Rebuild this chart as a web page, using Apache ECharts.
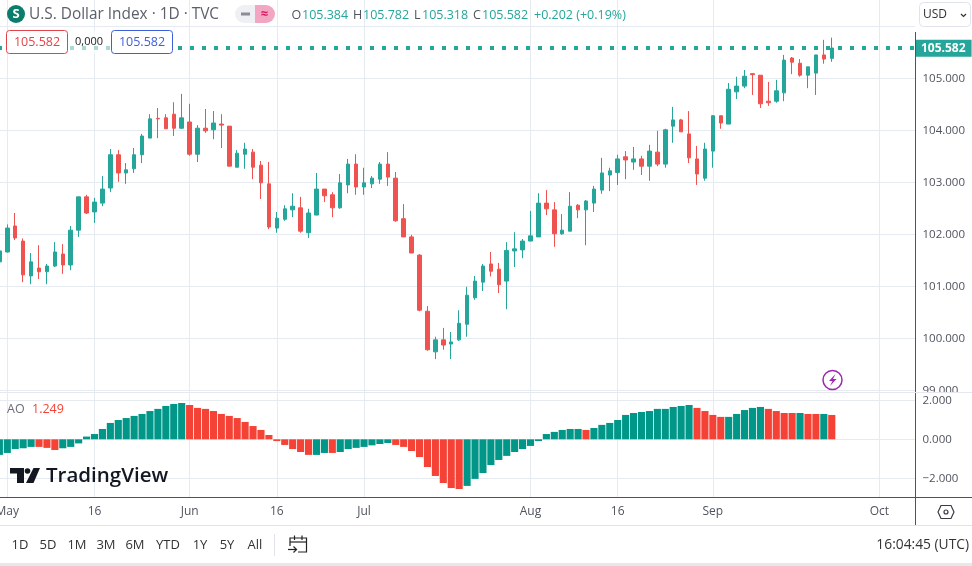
<!DOCTYPE html>
<html>
<head>
<meta charset="utf-8">
<style>
  html, body { margin: 0; padding: 0; background: #fff; }
  #main { width: 972px; height: 566px; }
</style>
</head>
<body>
<div id="main"></div>
<script src="https://cdn.jsdelivr.net/npm/echarts@6/dist/echarts.min.js"></script>
<script>
// trading days, first one is 28 Apr (only half visible at the left edge)
var categories = [
  "2023-04-28",
  "2023-05-01","2023-05-02","2023-05-03","2023-05-04","2023-05-05","2023-05-08","2023-05-09","2023-05-10","2023-05-11","2023-05-12",
  "2023-05-15","2023-05-16","2023-05-17","2023-05-18","2023-05-19","2023-05-22","2023-05-23","2023-05-24","2023-05-25","2023-05-26",
  "2023-05-29","2023-05-30","2023-05-31",
  "2023-06-01","2023-06-02","2023-06-05","2023-06-06","2023-06-07","2023-06-08","2023-06-09","2023-06-12","2023-06-13","2023-06-14",
  "2023-06-15","2023-06-16","2023-06-19","2023-06-20","2023-06-21","2023-06-22","2023-06-23","2023-06-26","2023-06-27","2023-06-28",
  "2023-06-29","2023-06-30",
  "2023-07-03","2023-07-04","2023-07-05","2023-07-06","2023-07-07","2023-07-10","2023-07-11","2023-07-12","2023-07-13","2023-07-14",
  "2023-07-17","2023-07-18","2023-07-19","2023-07-20","2023-07-21","2023-07-24","2023-07-25","2023-07-26","2023-07-27","2023-07-28",
  "2023-07-31",
  "2023-08-01","2023-08-02","2023-08-03","2023-08-04","2023-08-07","2023-08-08","2023-08-09","2023-08-10","2023-08-11","2023-08-14",
  "2023-08-15","2023-08-16","2023-08-17","2023-08-18","2023-08-21","2023-08-22","2023-08-23","2023-08-24","2023-08-25","2023-08-28",
  "2023-08-29","2023-08-30","2023-08-31",
  "2023-09-01","2023-09-04","2023-09-05","2023-09-06","2023-09-07","2023-09-08","2023-09-11","2023-09-12","2023-09-13","2023-09-14",
  "2023-09-15","2023-09-18","2023-09-19","2023-09-20","2023-09-21","2023-09-22","2023-09-25","2023-09-26","2023-09-27","2023-09-28",
  "2023-09-29",
  "2023-10-02","2023-10-03","2023-10-04","2023-10-05","2023-10-06"
];

var opens = [
  101.47,101.66,102.16,101.87,101.20,101.35,101.28,101.39,101.62,101.41,
  102.08,102.72,102.43,102.60,102.89,103.53,103.18,103.26,103.53,103.85,
  104.23,104.24,104.31,104.04,104.16,103.54,104.04,104.01,104.12,104.08,
  103.29,103.54,103.58,103.33,102.97,102.12,102.29,102.47,102.51,102.03,
  102.37,102.87,102.76,102.51,102.95,103.35,102.91,102.97,103.06,103.35,
  103.08,102.30,101.95,101.60,100.52,99.74,99.97,99.89,99.97,100.27,
  100.78,101.08,101.43,101.33,101.10,101.68,101.70,101.87,101.95,102.60,
  102.47,102.01,102.06,102.56,102.47,102.60,102.85,103.14,103.19,103.49,
  103.39,103.45,103.31,103.58,103.35,104.08,104.20,103.93,103.45,103.08,
  103.60,104.28,104.12,104.74,104.85,105.09,105.06,104.56,104.56,104.72,
  105.39,105.29,105.06,105.10,105.45,105.384
];
var closes = [
  101.68,102.12,101.93,101.22,101.47,101.28,101.39,101.66,101.41,102.08,
  102.72,102.41,102.62,102.87,103.53,103.18,103.24,103.53,103.89,104.22,
  104.22,104.03,104.04,104.24,103.54,104.04,103.99,104.14,104.10,103.31,
  103.56,103.64,103.29,102.99,102.14,102.31,102.49,102.54,102.06,102.41,
  102.87,102.74,102.51,102.99,103.35,102.91,102.99,103.08,103.35,103.10,
  102.26,101.95,101.64,100.54,99.78,99.97,99.87,99.93,100.29,100.83,
  101.10,101.39,101.29,101.03,101.69,101.72,101.87,101.97,102.60,102.49,
  102.01,102.08,102.54,102.47,102.64,102.87,103.18,103.22,103.45,103.43,
  103.45,103.31,103.60,103.35,104.01,104.20,103.97,103.47,103.16,103.64,
  104.28,104.14,104.79,104.85,105.04,105.07,104.51,104.53,104.76,105.35,
  105.31,105.06,105.22,105.45,105.37,105.582
];
var highs = [
  101.76,102.19,102.41,101.92,101.64,101.79,101.43,101.85,101.81,102.16,
  102.72,102.76,102.70,103.12,103.64,103.62,103.37,103.66,103.93,104.31,
  104.43,104.31,104.54,104.70,104.51,104.10,104.41,104.37,104.31,104.08,
  103.62,103.76,103.64,103.41,103.39,102.43,102.56,102.79,102.72,102.49,
  103.18,102.87,102.81,103.16,103.45,103.54,103.28,103.12,103.39,103.58,
  103.20,102.58,101.99,101.62,100.62,100.03,100.20,100.12,100.54,100.99,
  101.20,101.43,101.66,101.45,101.85,102.04,101.91,102.45,102.79,102.85,
  102.62,102.39,102.81,102.58,102.66,102.93,103.47,103.28,103.53,103.60,
  103.68,103.51,103.72,103.99,104.03,104.45,104.22,104.37,103.70,103.76,
  104.29,104.28,104.91,105.03,105.16,105.10,105.06,104.93,104.97,105.45,
  105.41,105.37,105.22,105.45,105.74,105.782
];
var lows = [
  101.38,101.65,101.89,101.08,101.04,101.14,101.04,101.37,101.24,101.31,
  101.95,102.39,102.22,102.54,102.81,103.01,102.97,103.18,103.37,103.85,
  103.85,104.03,103.89,104.03,103.51,103.39,103.95,103.83,103.66,103.31,
  103.29,103.26,103.06,102.68,102.10,102.03,102.26,102.33,102.03,101.93,
  102.37,102.62,102.33,102.49,102.79,102.76,102.76,102.89,102.97,102.93,
  102.24,101.95,101.64,100.52,99.76,99.60,99.78,99.60,99.95,100.03,
  100.74,100.91,101.19,100.87,100.56,101.37,101.54,101.87,101.95,102.37,
  101.76,101.99,102.06,102.31,101.79,102.43,102.78,102.83,102.95,103.06,
  103.24,103.14,103.03,103.31,103.28,103.76,103.97,103.37,102.95,103.03,
  103.28,104.03,104.12,104.60,104.81,104.68,104.43,104.47,104.53,104.56,
  105.08,105.03,104.81,104.68,105.28,105.318
];

// Awesome Oscillator pane
var aoValues = [
  -0.80,-0.70,-0.50,-0.46,-0.39,-0.39,-0.44,-0.55,-0.46,-0.39,
  -0.21,0.14,0.27,0.53,0.84,0.99,1.09,1.20,1.30,1.45,
  1.56,1.71,1.81,1.86,1.76,1.61,1.56,1.45,1.30,1.20,
  1.09,0.89,0.68,0.48,0.22,-0.09,-0.29,-0.50,-0.65,-0.80,
  -0.80,-0.70,-0.70,-0.65,-0.50,-0.44,-0.39,-0.31,-0.24,-0.19,
  -0.29,-0.39,-0.60,-0.91,-1.42,-1.88,-2.24,-2.50,-2.55,-2.39,
  -2.03,-1.73,-1.32,-1.06,-0.85,-0.65,-0.50,-0.34,-0.09,0.27,
  0.38,0.48,0.53,0.53,0.48,0.58,0.74,0.84,0.99,1.25,
  1.35,1.40,1.45,1.56,1.56,1.66,1.71,1.76,1.61,1.45,
  1.25,1.15,1.15,1.30,1.50,1.61,1.66,1.56,1.45,1.35,
  1.35,1.35,1.30,1.30,1.30,1.249
];
// 1 = teal bar, 0 = red bar
var aoRising = [
  1,1,1,1,1,0,0,0,1,1,
  1,1,1,1,1,1,1,1,1,1,
  1,1,1,1,0,0,0,0,0,0,
  0,0,0,0,0,0,0,0,0,0,
  1,1,0,1,1,1,1,1,1,1,
  0,0,0,0,0,0,0,0,0,1,
  1,1,1,1,1,1,1,1,1,1,
  1,1,1,1,0,1,1,1,1,1,
  1,1,1,1,1,1,1,1,0,0,
  0,0,1,1,1,1,1,0,0,0,
  0,1,0,0,1,0
];

var tickDates = ["2023-05-01","2023-05-16","2023-06-01","2023-06-16","2023-07-03","2023-08-01","2023-08-16","2023-09-01","2023-10-02"];
var tickTexts = ["May","16","Jun","16","Jul","Aug","16","Sep","Oct"];
var aoTicks = [-2, 0, 2];

var lastPrice = closes[closes.length - 1];
var UP = "#26a69a", DOWN = "#ef5350";
var GRID_LINE = "#e6ebf1", AXIS_TEXT = "#50535e";
var FONT = "'Open Sans', sans-serif";

var candleData = opens.map(function (o, i) {
  return [o, closes[i], lows[i], highs[i]];
});
var aoData = aoValues.map(function (v, i) {
  return { value: v, itemStyle: { color: aoRising[i] ? "#009688" : "#f44336" } };
});

function isTick(index) {
  return tickDates.indexOf(categories[index]) >= 0;
}

// small helper for all the toolbar/header text
function label(x, y, text, color, size, extra) {
  return {
    type: "text",
    z: 30,
    style: Object.assign({
      x: x, y: y, text: text, fill: color, fontSize: size || 12,
      fontFamily: FONT, textVerticalAlign: "middle", textAlign: "left"
    }, extra || {})
  };
}
function box(x, y, w, h, fill, stroke, r) {
  return {
    type: "rect",
    z: 25,
    shape: { x: x, y: y, width: w, height: h, r: r || 0 },
    style: { fill: fill, stroke: stroke || null, lineWidth: 1 }
  };
}
function line(x1, y1, x2, y2, color, w) {
  return {
    type: "line",
    z: 26,
    shape: { x1: x1, y1: y1, x2: x2, y2: y2 },
    style: { stroke: color, lineWidth: w || 1 }
  };
}

var chrome = [
  // axis frame
  line(915.5, 32, 915.5, 525, "#50535e"),
  line(0, 497.5, 972, 497.5, "#50535e"),
  line(0, 525.5, 972, 525.5, "#e0e3eb", 1),
  box(0, 563, 972, 3, "#e6e8ec"),
  box(916, 392.5, 56, 2, "#fff"),
  line(0, 392.5, 972, 392.5, "#e6e8ee"),

  // header
  { type: "circle", z: 30, shape: { cx: 16, cy: 14, r: 9 }, style: { fill: "#0b7d6c" } },
  label(16, 14.5, "S", "#fff", 13, { fontWeight: "bold", textAlign: "center" }),
  label(29, 14.5, "U.S. Dollar Index · 1D · TVC", "#5d606b", 15.4),
  box(235, 5, 20, 18, "#eff0f3", null, [9, 0, 0, 9]),
  box(255, 5, 20, 18, "#f3a6c2", null, [0, 9, 9, 0]),
  line(241, 14, 250, 14, "#8a8d96", 3),
  label(264.5, 14, "≈", "#d81b60", 13, { textAlign: "center", fontWeight: "bold" }),
  label(291.5, 15, "O", AXIS_TEXT, 12.5),
  label(302, 15, "105.384", UP, 12.5),
  label(353, 15, "H", AXIS_TEXT, 12.5),
  label(363, 15, "105.782", UP, 12.5),
  label(414, 15, "L", AXIS_TEXT, 12.5),
  label(422, 15, "105.318", UP, 12.5),
  label(473, 15, "C", AXIS_TEXT, 12.5),
  label(482, 15, "105.582", UP, 12.5),
  label(534, 15, "+0.202 (+0.19%)", UP, 12.5),
  box(919.5, 2.5, 51, 24, "#fff", "#e0e3eb", 4),
  label(923, 15, "USD", "#333", 12),
  { type: "polyline", z: 30, shape: { points: [[961, 14], [963.5, 16.5], [966, 14]] }, style: { stroke: "#333", fill: null, lineWidth: 1.2 } },

  // buy / sell boxes on the price pane
  box(68, 30, 43, 23, "rgba(255,255,255,0.6)"),
  box(6.5, 30.5, 61, 23, "#fff", "#e0434b", 3),
  label(37, 42.5, "105.582", "#e0434b", 12.5, { textAlign: "center" }),
  label(89, 42, "0,000", "#222", 11, { textAlign: "center" }),
  box(111.5, 30.5, 61, 23, "#fff", "#3d5fd9", 3),
  label(142, 42.5, "105.582", "#3d5fd9", 12.5, { textAlign: "center" }),

  // AO legend
  label(7, 409.5, "AO", "#6a6d78", 12.5),
  label(32, 409.5, "1.249", "#f44336", 12.5),

  // lightning badge
  { type: "circle", z: 30, shape: { cx: 832.5, cy: 380, r: 9.5 }, style: { fill: "#fff", stroke: "#9c27b0", lineWidth: 1.5 } },
  { type: "polygon", z: 31, shape: { points: [[835.5, 374], [829, 381], [832.5, 381], [830, 386], [836.5, 379], [833, 379]] }, style: { fill: "#9c27b0" } },

  // TradingView watermark
  { type: "polygon", z: 30, shape: { points: [[10, 468], [24, 468], [24, 483], [17, 483], [17, 473.5], [10, 473.5]] }, style: { fill: "#131722" } },
  { type: "circle", z: 30, shape: { cx: 27.5, cy: 471, r: 2.8 }, style: { fill: "#131722" } },
  { type: "polygon", z: 30, shape: { points: [[33.5, 468], [40, 468], [33.5, 483], [26, 483]] }, style: { fill: "#131722" } },
  label(46, 476, "TradingView", "#131722", 20.5, { fontWeight: 600 }),

  // settings hexagon
  { type: "polygon", z: 30, shape: { points: [[941, 505.5], [951, 505.5], [954, 512], [951, 518.5], [941, 518.5], [938, 512]] }, style: { fill: "#fff", stroke: "#3a3d46", lineWidth: 1.2 } },
  { type: "circle", z: 31, shape: { cx: 946, cy: 512, r: 2 }, style: { fill: "#fff", stroke: "#3a3d46", lineWidth: 1.2 } },

  // bottom toolbar
  label(20, 545, "1D", "#333", 13, { textAlign: "center" }),
  label(48, 545, "5D", "#333", 13, { textAlign: "center" }),
  label(77, 545, "1M", "#333", 13, { textAlign: "center" }),
  label(106, 545, "3M", "#333", 13, { textAlign: "center" }),
  label(135, 545, "6M", "#333", 13, { textAlign: "center" }),
  label(168, 545, "YTD", "#333", 13, { textAlign: "center" }),
  label(200, 545, "1Y", "#333", 13, { textAlign: "center" }),
  label(227, 545, "5Y", "#333", 13, { textAlign: "center" }),
  label(255, 545, "All", "#333", 13, { textAlign: "center" }),
  line(274.5, 534, 274.5, 556, "#e0e3eb"),
  { type: "polyline", z: 30, shape: { points: [[290, 546], [290, 538], [306.5, 538], [306.5, 552], [298, 552]] }, style: { stroke: "#222", fill: null, lineWidth: 1.2 } },
  line(290, 542, 306.5, 542, "#222", 1.2),
  line(294.5, 535.5, 294.5, 540, "#222", 1.2),
  line(302, 535.5, 302, 540, "#222", 1.2),
  line(288, 549.5, 296.5, 549.5, "#222", 1.2),
  { type: "polyline", z: 30, shape: { points: [[293.5, 546.5], [296.5, 549.5], [293.5, 552.5]] }, style: { stroke: "#222", fill: null, lineWidth: 1.2 } },
  label(969, 545, "16:04:45 (UTC)", "#333", 13.8, { textAlign: "right" })
];

var chart = echarts.init(document.getElementById("main"), null, { renderer: "canvas" });

chart.setOption({
  animation: false,
  backgroundColor: "#fff",
  grid: [
    { left: -4.6, width: 919.6, top: 0, height: 390.3, outerBoundsMode: "none" },
    { left: -4.6, width: 919.6, top: 390.3, height: 106.7, outerBoundsMode: "none" }
  ],
  xAxis: [
    {
      type: "category",
      gridIndex: 0,
      data: categories,
      axisLine: { show: false },
      axisTick: { show: false },
      axisLabel: { show: false },
      splitLine: { show: true, alignWithLabel: true, interval: isTick, lineStyle: { color: GRID_LINE } }
    },
    {
      type: "category",
      gridIndex: 1,
      data: categories,
      axisLine: { show: false },
      axisTick: { show: false },
      axisLabel: {
        interval: isTick,
        hideOverlap: false,
        margin: 9,
        color: AXIS_TEXT,
        fontSize: 12,
        fontFamily: FONT,
        formatter: function (value) {
          return tickTexts[tickDates.indexOf(value)];
        }
      },
      splitLine: { show: true, alignWithLabel: true, interval: isTick, lineStyle: { color: GRID_LINE } }
    }
  ],
  yAxis: [
    {
      type: "value",
      gridIndex: 0,
      position: "right",
      min: 99,
      max: 106.506,
      interval: 1,
      axisLine: { show: false },
      axisTick: { show: false },
      axisLabel: {
        margin: 7.5,
        color: AXIS_TEXT,
        fontSize: 11.5,
        fontFamily: FONT,
        showMaxLabel: false,
        formatter: function (v) {
          return v > 105.5 ? "" : v.toFixed(3);
        }
      },
      splitLine: { show: true, showMaxLine: false, lineStyle: { color: GRID_LINE } }
    },
    {
      type: "value",
      gridIndex: 1,
      position: "right",
      min: -2.959,
      max: 2.513,
      axisLine: { show: false },
      axisTick: { show: false, customValues: aoTicks },
      axisLabel: {
        customValues: aoTicks,
        margin: 7.5,
        color: AXIS_TEXT,
        fontSize: 11.5,
        fontFamily: FONT,
        formatter: function (v) {
          return (v < 0 ? "−" + Math.abs(v).toFixed(3) : v.toFixed(3));
        }
      },
      splitLine: { show: true, lineStyle: { color: GRID_LINE } }
    }
  ],
  series: [
    {
      type: "candlestick",
      name: "U.S. Dollar Index",
      xAxisIndex: 0,
      yAxisIndex: 0,
      barWidth: 4,
      data: candleData,
      itemStyle: { color: UP, color0: DOWN, borderColor: UP, borderColor0: DOWN, borderWidth: 1 },
      markLine: {
        silent: true,
        symbol: "none",
        data: [{ yAxis: lastPrice }],
        lineStyle: { color: UP, width: 4, type: [4, 8], dashOffset: 9.4 },
        label: {
          show: true,
          position: "end",
          distance: 0,
          formatter: lastPrice.toFixed(3),
          color: "#fff",
          fontWeight: "bold",
          fontSize: 12,
          fontFamily: FONT,
          backgroundColor: UP,
          padding: [3, 6, 2, 6]
        }
      }
    },
    {
      type: "bar",
      name: "AO",
      xAxisIndex: 1,
      yAxisIndex: 1,
      barWidth: "90%",
      data: aoData
    }
  ],
  graphic: { elements: chrome }
});
</script>
</body>
</html>
